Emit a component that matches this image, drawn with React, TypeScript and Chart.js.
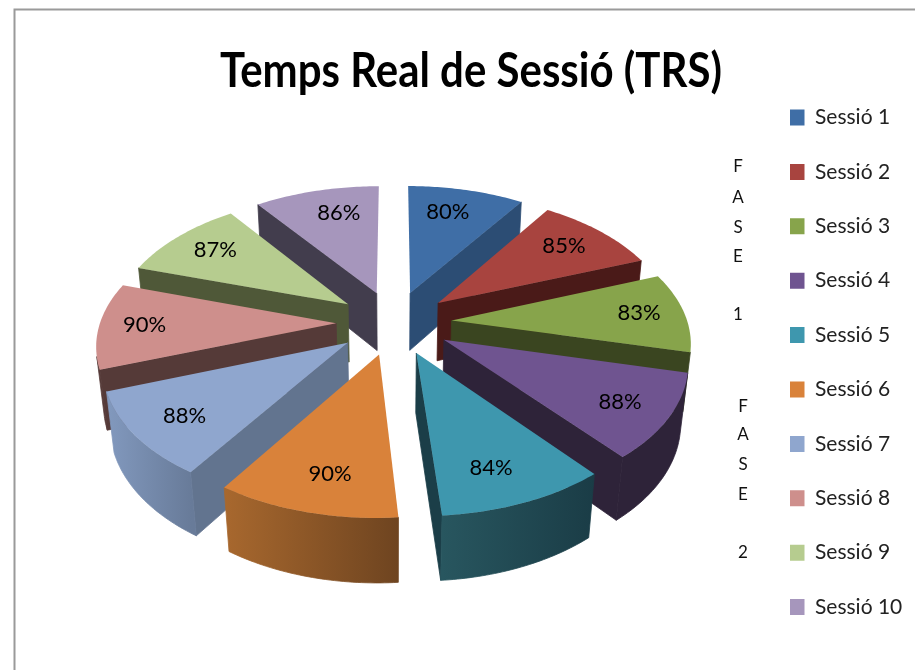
import React, { useEffect, useRef } from "react";
import { Chart, registerables } from "chart.js";

Chart.register(...registerables);

const chartTitle = "Temps Real de Sessió (TRS)";
const sessions = ["Sessió 1", "Sessió 2", "Sessió 3", "Sessió 4", "Sessió 5", "Sessió 6", "Sessió 7", "Sessió 8", "Sessió 9", "Sessió 10"];
const percentages = [80, 85, 83, 88, 84, 90, 88, 90, 87, 86];
const topColors = ["#3F6EA6", "#A8443F", "#87A44B", "#6F5490", "#3E97AE", "#D9823A", "#8FA6CE", "#CE8F8C", "#B6CC8F", "#A696BC"];
const wallColors = ["#2C4D74", "#4A1A18", "#3A4520", "#2E2339", "#1B3E48", "#6E4420", "#62748F", "#553A38", "#4F5838", "#423D4D"];
const outerLightColors = ["#2C4D74", "#5A2220", "#3A4520", "#2E2339", "#28565F", "#A8682E", "#8299BE", "#553A38", "#4F5838", "#423D4D"];
const outerDarkColors = ["#2C4D74", "#4A1A18", "#3A4520", "#2E2339", "#1A3C46", "#6E4420", "#687B99", "#553A38", "#4F5838", "#423D4D"];
const phaseOne = ["F", "A", "S", "E", "", "1"];
const phaseTwo = ["F", "A", "S", "E", "", "2"];

const labelNudgeX = [-7, -2, 7, 5, -7, 6, -2, -8, 1, 10];
const labelNudgeY = [1, 0, -1, 3, 3, 2, 3, 0, -1, 1];

const FONT = "Lato, 'Noto Sans', sans-serif";
const view = { cx: 394, cy: 322.5, f: 236, g: 130, d: 60, p: 0.143, q: 0.025, explode: 0.245, labelAt: 1.02 };

function project(X: number, Y: number, Z: number) {
  const w = 1 - view.p * Y + view.q * Z;
  return { x: view.cx + (view.f * X) / w, y: view.cy + (view.g * Y + view.d * Z) / w };
}

function signedArea(pts: { x: number; y: number }[]) {
  let area = 0;
  pts.forEach((pt, k) => {
    const n = pts[(k + 1) % pts.length];
    area += pt.x * n.y - n.x * pt.y;
  });
  return area;
}

const pie3d = {
  id: "pie3d",
  beforeDraw(chart: any) {
    const { ctx } = chart;
    ctx.save();
    ctx.fillStyle = "#ffffff";
    ctx.fillRect(0, 0, chart.width, chart.height);
    ctx.strokeStyle = "#9a9a9a";
    ctx.lineWidth = 2;
    ctx.beginPath();
    ctx.moveTo(14.5, chart.height);
    ctx.lineTo(14.5, 9.5);
    ctx.lineTo(chart.width, 9.5);
    ctx.stroke();
    ctx.restore();
  },
  afterLayout(chart: any) {
    const lg = chart.legend;
    const pad = lg.options.labels.padding;
    lg.left = 790 - pad;
    lg.right = chart.width;
    lg.top = 107 - pad;
    lg.bottom = chart.height;
    const t = chart.titleBlock;
    t.left = 220;
    t.right = 722;
    t.top = 44;
    t.bottom = 104;
  },
  beforeDatasetsDraw(chart: any) {
    const { ctx } = chart;
    const arcs = chart.getDatasetMeta(0).data;
    const slices = arcs.map((arc: any, i: number) => {
      const a0 = arc.startAngle + Math.PI / 2;
      const a1 = arc.endAngle + Math.PI / 2;
      const mid = (a0 + a1) / 2;
      return { i, a0, a1, mid, ox: view.explode * Math.sin(mid), oy: -view.explode * Math.cos(mid) };
    });
    const order = [...slices].sort((a: any, b: any) => -Math.cos(a.mid) - -Math.cos(b.mid));
    const fillPoly = (pts: { x: number; y: number }[], fill: any, seal = false) => {
      ctx.beginPath();
      pts.forEach((pt, k) => (k ? ctx.lineTo(pt.x, pt.y) : ctx.moveTo(pt.x, pt.y)));
      ctx.closePath();
      ctx.fillStyle = fill;
      ctx.fill();
      if (seal) {
        ctx.strokeStyle = fill;
        ctx.lineWidth = 0.8;
        ctx.stroke();
      }
    };
    const radialWall = (a: any, b: any, fill: any) => {
      const pts = [project(a.X, a.Y, 0), project(b.X, b.Y, 0), project(b.X, b.Y, 1), project(a.X, a.Y, 1)];
      if (signedArea(pts) > -800) return;
      fillPoly(pts, fill, true);
    };
    ctx.save();
    ctx.lineJoin = "round";
    for (const s of order) {
      const rim: any[] = [];
      const steps = 40;
      for (let k = 0; k <= steps; k++) {
        const a = s.a0 + ((s.a1 - s.a0) * k) / steps;
        rim.push({ X: s.ox + Math.sin(a), Y: s.oy - Math.cos(a) });
      }
      const apex = { X: s.ox, Y: s.oy };
      const left = project(rim[0].X, rim[0].Y, 0).x;
      const right = project(rim[steps].X, rim[steps].Y, 0).x;
      const grad = ctx.createLinearGradient(Math.min(left, right), 0, Math.max(left, right) + 1, 0);
      grad.addColorStop(0, outerLightColors[s.i]);
      grad.addColorStop(1, outerDarkColors[s.i]);
      radialWall(apex, rim[0], wallColors[s.i]);
      radialWall(rim[steps], apex, wallColors[s.i]);
      // the outer wall: one polygon per run of rim segments facing the viewer
      let run: any[] = [];
      const flush = () => {
        if (run.length > 1) {
          const upper = run.map((v) => project(v.X, v.Y, 0));
          const lower = run.map((v) => project(v.X, v.Y, 1)).reverse();
          fillPoly([...upper, ...lower], grad, true);
        }
        run = [];
      };
      for (let k = 0; k < steps; k++) {
        const a = rim[k];
        const b = rim[k + 1];
        const seg = [project(a.X, a.Y, 0), project(b.X, b.Y, 0), project(b.X, b.Y, 1), project(a.X, a.Y, 1)];
        if (signedArea(seg) < 0) {
          if (!run.length) run.push(a);
          run.push(b);
        } else {
          flush();
        }
      }
      flush();
      fillPoly([project(apex.X, apex.Y, 0), ...rim.map((v) => project(v.X, v.Y, 0))], topColors[s.i]);
    }
    ctx.fillStyle = "#000000";
    ctx.textAlign = "center";
    ctx.textBaseline = "middle";
    ctx.font = `22px ${FONT}`;
    for (const s of slices) {
      const pos = project(view.labelAt * Math.sin(s.mid), -view.labelAt * Math.cos(s.mid), 0);
      ctx.fillText(`${percentages[s.i]}%`, pos.x + labelNudgeX[s.i], pos.y + labelNudgeY[s.i]);
    }
    ctx.font = `17px ${FONT}`;
    ctx.fillStyle = "#111111";
    const col = (letters: string[], x: number, ys: number[]) =>
      letters.forEach((l, k) => ctx.fillText(l, x, ys[k]));
    col(phaseOne, 738, [167, 198, 228, 257, 0, 315]);
    col(phaseTwo, 743, [407, 435, 465, 495, 0, 553]);
    ctx.restore();
    return false;
  },
};

export default function App() {
  const ref = useRef<HTMLCanvasElement | null>(null);
  useEffect(() => {
    const chart = new Chart(ref.current as HTMLCanvasElement, {
      type: "pie",
      data: {
        labels: sessions,
        datasets: [{ data: percentages, backgroundColor: topColors, borderWidth: 0 }],
      },
      options: {
        responsive: false,
        animation: false,
        rotation: 0,
        plugins: {
          title: {
            display: true,
            text: chartTitle,
            color: "#000000",
            padding: 0,
            font: { family: FONT, size: 47, weight: "bold" },
          },
          legend: {
            position: "right",
            align: "start",
            labels: {
              color: "#222222",
              boxWidth: 14.5,
              boxHeight: 16,
              padding: 33.4,
              font: { family: FONT, size: 21 },
            },
          },
          tooltip: { enabled: false },
        },
      },
      plugins: [pie3d],
    } as any);
    return () => chart.destroy();
  }, []);
  return (
    <div style={{ position: "fixed", left: 0, top: 0, width: 915, height: 670, background: "#fff" }}>
      <canvas ref={ref} width={915} height={670} style={{ display: "block", filter: "blur(0.7px)" }} />
    </div>
  );
}
